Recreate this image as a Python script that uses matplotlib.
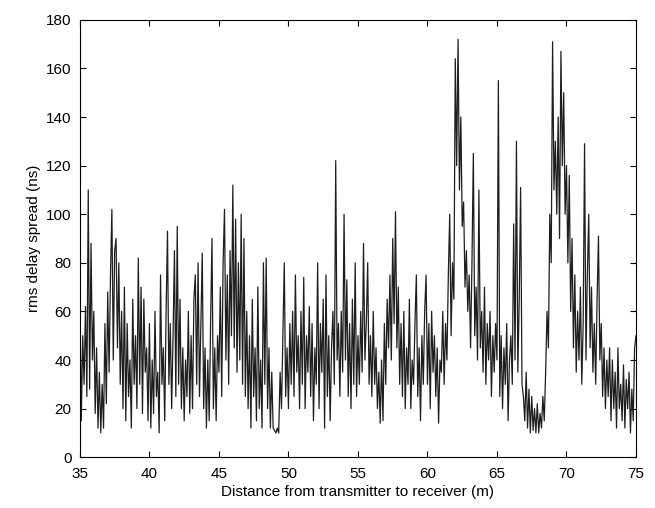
import numpy as np
import matplotlib
matplotlib.use("Agg")
import matplotlib.pyplot as plt

# rms delay spread (ns) at 0.1 m steps, in 5 m blocks
seg_35_40 = [65, 15, 50, 30, 62, 25, 110, 28, 88, 40,
             60, 18, 45, 12, 35, 10, 30, 12, 55, 22,
             68, 35, 75, 102, 40, 85, 90, 45, 80, 30,
             60, 20, 70, 15, 55, 25, 40, 12, 65, 30,
             50, 20, 82, 30, 70, 18, 65, 35, 45, 15]
seg_40_45 = [55, 12, 40, 18, 60, 25, 35, 10, 75, 30,
             45, 15, 60, 93, 30, 55, 20, 50, 85, 25,
             95, 30, 65, 20, 45, 15, 40, 25, 60, 18,
             50, 20, 65, 75, 30, 80, 25, 55, 84, 20,
             45, 12, 40, 15, 55, 90, 20, 45, 15, 50]
seg_45_50 = [35, 70, 25, 80, 102, 40, 75, 30, 85, 50,
             112, 45, 98, 35, 80, 40, 100, 30, 90, 25,
             60, 20, 50, 12, 65, 25, 45, 15, 70, 20,
             40, 12, 80, 30, 82, 20, 45, 12, 35, 12,
             11, 10, 12, 10, 35, 20, 50, 80, 25, 45]
seg_50_55 = [20, 55, 30, 60, 25, 75, 35, 50, 20, 60,
             30, 74, 20, 50, 35, 62, 25, 55, 15, 45,
             30, 80, 20, 55, 35, 65, 12, 75, 25, 50,
             15, 45, 60, 30, 122, 40, 55, 25, 60, 35,
             100, 40, 73, 25, 55, 20, 65, 30, 80, 25]
seg_55_60 = [50, 30, 60, 35, 88, 40, 55, 80, 30, 50,
             25, 60, 30, 45, 20, 35, 14, 40, 15, 55,
             30, 65, 45, 75, 40, 90, 55, 101, 45, 70,
             30, 55, 25, 60, 20, 45, 30, 65, 20, 40,
             30, 55, 75, 25, 45, 15, 50, 30, 60, 75]
seg_60_65 = [30, 55, 20, 60, 35, 50, 25, 45, 14, 40,
             35, 60, 30, 55, 40, 75, 100, 50, 80, 65,
             164, 120, 172, 110, 140, 95, 105, 70, 85, 60,
             75, 45, 80, 125, 50, 70, 40, 110, 45, 60,
             35, 70, 30, 55, 40, 60, 25, 50, 35, 55]
seg_65_70 = [40, 155, 25, 50, 20, 45, 30, 55, 15, 40,
             50, 30, 96, 40, 130, 35, 65, 111, 30, 25,
             15, 35, 12, 28, 10, 25, 11, 20, 10, 22,
             10, 18, 12, 25, 15, 35, 60, 45, 100, 80,
             171, 110, 130, 100, 140, 90, 167, 120, 150, 100]
seg_70_75 = [120, 80, 116, 60, 90, 45, 75, 35, 60, 40,
             70, 30, 55, 129, 40, 75, 100, 45, 70, 35,
             55, 30, 65, 91, 40, 55, 25, 45, 20, 40,
             25, 45, 15, 40, 20, 35, 12, 45, 20, 30,
             15, 38, 12, 32, 20, 35, 10, 28, 15, 45,
             50]

spread = np.array(seg_35_40 + seg_40_45 + seg_45_50 + seg_50_55
                  + seg_55_60 + seg_60_65 + seg_65_70 + seg_70_75, dtype=float)
dist = 35.0 + 0.1 * np.arange(len(spread))

plt.rcParams["font.family"] = ["Liberation Sans", "DejaVu Sans"]

fig = plt.figure(figsize=(6.55, 5.08), dpi=100)
ax = fig.add_axes([0.122, 0.100, 0.849, 0.861])
ax.plot(dist, spread, color="#1e1e1e", linewidth=0.9)

ax.set_xlim(35, 75)
ax.set_ylim(0, 180)
ax.set_xticks(np.arange(35, 76, 5))
ax.set_yticks(np.arange(0, 181, 20))
ax.tick_params(direction="in", top=True, right=True, labelsize=11, length=4)
ax.tick_params(axis="x", pad=7)
ax.tick_params(axis="y", pad=6)
ax.set_xlabel("Distance from transmitter to receiver (m)", fontsize=11,
              labelpad=3)
ax.set_ylabel("rms delay spread (ns)", fontsize=11)

fig.savefig("out.png", dpi=100)
